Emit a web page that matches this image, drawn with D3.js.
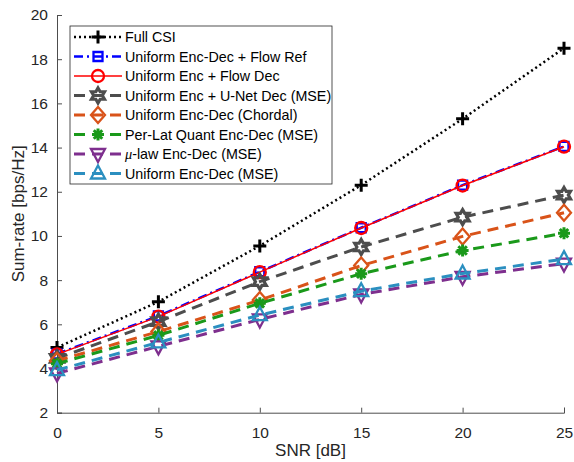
<!DOCTYPE html>
<meta charset="utf-8">
<script src="https://d3js.org/d3.v7.min.js"></script>
<style>
  body { margin: 0; background: #fff; }
  text { font-family: "Liberation Sans", Arial, sans-serif; }
</style>
<div id="chart"></div>
<script>
// data
const snr = [0, 5, 10, 15, 20, 25];
const fullCsi      = [4.95, 7.02, 9.55, 12.3, 15.3, 18.5];
const flowRef      = [4.66, 6.38, 8.38, 10.37, 12.3, 14.05];
const flowDec      = [4.64, 6.35, 8.36, 10.36, 12.28, 14.04];
const unetMse      = [4.46, 6.12, 7.93, 9.5, 10.85, 11.85];
const chordal      = [4.35, 5.67, 7.1, 8.66, 9.98, 11.05];
const perLat       = [4.22, 5.5, 6.95, 8.29, 9.34, 10.12];
const muLaw        = [3.78, 5.0, 6.22, 7.35, 8.15, 8.75];
const uniformMse   = [3.93, 5.18, 6.42, 7.5, 8.3, 8.95];
const xTicks = [0, 5, 10, 15, 20, 25];
const yTicks = [2, 4, 6, 8, 10, 12, 14, 16, 18, 20];

const series = [
  {name: "Full CSI", vals: fullCsi, color: "#000000", dash: "2,3", w: 2.5, mk: "plus"},
  {name: "Uniform Enc-Dec + Flow Ref", vals: flowRef, color: "#0000ff", dash: "9,4,2,4", w: 2.5, mk: "square"},
  {name: "Uniform Enc + Flow Dec", vals: flowDec, color: "#ff0000", dash: null, w: 1.5, mk: "circle"},
  {name: "Uniform Enc + U-Net Dec (MSE)", vals: unetMse, color: "#4d4d4d", dash: "11,7", w: 3, mk: "hexagram"},
  {name: "Uniform Enc-Dec (Chordal)", vals: chordal, color: "#d95319", dash: "11,7", w: 3, mk: "diamond"},
  {name: "Per-Lat Quant Enc-Dec (MSE)", vals: perLat, color: "#1a991a", dash: "11,7", w: 3, mk: "asterisk"},
  {name: "μ-law Enc-Dec (MSE)", vals: muLaw, color: "#7e2f8e", dash: "11,7", w: 3, mk: "tridown"},
  {name: "Uniform Enc-Dec (MSE)", vals: uniformMse, color: "#2b8fc0", dash: "11,7", w: 3, mk: "triup"}
];

const W = 574, H = 462;
const margin = {top: 15, right: 10, bottom: 49, left: 57};
const iw = 564 - margin.left, ih = 412.7 - margin.top;

const svg = d3.select("#chart").append("svg")
    .attr("width", W).attr("height", H);
const g = svg.append("g")
    .attr("transform", "translate(" + margin.left + "," + margin.top + ")");

const x = d3.scaleLinear().domain([0, 25]).range([0, iw]);
const y = d3.scaleLinear().domain([2, 20]).range([ih, 0]);

// axes, MATLAB style ticks pointing inward
const xAxis = g.append("g")
    .attr("transform", "translate(0," + ih + ")")
    .call(d3.axisBottom(x).tickValues(xTicks).tickSize(-5).tickPadding(14));
const yAxis = g.append("g")
    .call(d3.axisLeft(y).tickValues(yTicks).tickSize(-5).tickPadding(9));
[xAxis, yAxis].forEach(a => {
  a.selectAll("path, line").attr("stroke", "#4d4d4d").attr("stroke-width", 1);
  a.selectAll("text").attr("fill", "#262626").style("font-size", "15.5px");
});

svg.append("text")
    .attr("x", margin.left + iw / 2).attr("y", 456)
    .attr("text-anchor", "middle").attr("fill", "#262626")
    .style("font-size", "17px").text("SNR [dB]");
svg.append("text")
    .attr("transform", "translate(24," + (margin.top + ih / 2) + ") rotate(-90)")
    .attr("text-anchor", "middle").attr("fill", "#262626")
    .style("font-size", "17px").text("Sum-rate [bps/Hz]");

// marker shapes
function markerPath(type) {
  const p = d3.path();
  if (type === "plus") {
    p.moveTo(-6.5, 0); p.lineTo(6.5, 0); p.moveTo(0, -6.5); p.lineTo(0, 6.5);
  } else if (type === "asterisk") {
    for (let k = 0; k < 4; k++) {
      const a = k * Math.PI / 4, r = 6;
      p.moveTo(-r * Math.cos(a), -r * Math.sin(a)); p.lineTo(r * Math.cos(a), r * Math.sin(a));
    }
  } else if (type === "square") {
    p.rect(-4.5, -4.5, 9, 9);
  } else if (type === "circle") {
    p.arc(0, 0, 6, 0, 2 * Math.PI);
  } else if (type === "diamond") {
    p.moveTo(0, -8); p.lineTo(7, 0); p.lineTo(0, 8); p.lineTo(-7, 0); p.closePath();
  } else if (type === "hexagram") {
    const R = 7.5, r = R / Math.sqrt(3);
    for (let k = 0; k < 12; k++) {
      const a = -Math.PI / 2 + k * Math.PI / 6, rr = k % 2 === 0 ? R : r;
      if (k === 0) p.moveTo(rr * Math.cos(a), rr * Math.sin(a));
      else p.lineTo(rr * Math.cos(a), rr * Math.sin(a));
    }
    p.closePath();
  } else if (type === "triup") {
    p.moveTo(0, -8); p.lineTo(7, 5); p.lineTo(-7, 5); p.closePath();
  } else if (type === "tridown") {
    p.moveTo(0, 8); p.lineTo(7, -5); p.lineTo(-7, -5); p.closePath();
  }
  return p.toString();
}

function markerWidth(mk) {
  if (mk === "plus" || mk === "asterisk") return 3;
  if (mk === "hexagram") return 3.2;
  return 2.3;
}

const line = d3.line().x((d, i) => x(snr[i])).y(d => y(d));

series.forEach(s => {
  const sg = g.append("g");
  sg.append("path")
      .datum(s.vals)
      .attr("d", line)
      .attr("fill", "none")
      .attr("stroke", s.color)
      .attr("stroke-width", s.w)
      .attr("stroke-dasharray", s.dash);
  sg.selectAll("path.mk")
      .data(s.vals)
      .enter().append("path")
      .attr("class", "mk")
      .attr("transform", (d, i) => "translate(" + x(snr[i]) + "," + y(d) + ")")
      .attr("d", markerPath(s.mk))
      .attr("fill", "none")
      .attr("stroke", s.color)
      .attr("stroke-width", markerWidth(s.mk));
});

// legend
const lg = svg.append("g").attr("transform", "translate(70,26)");
lg.append("rect")
    .attr("width", 262).attr("height", 158)
    .attr("fill", "#fff").attr("stroke", "#262626").attr("stroke-width", 0.8);
series.forEach((s, i) => {
  const row = lg.append("g").attr("transform", "translate(0," + (11 + i * 19.5) + ")");
  row.append("line")
      .attr("x1", 4).attr("x2", 52).attr("y1", 0).attr("y2", 0)
      .attr("stroke", s.color).attr("stroke-width", s.w)
      .attr("stroke-dasharray", s.dash);
  row.append("path")
      .attr("transform", "translate(28,0)")
      .attr("d", markerPath(s.mk))
      .attr("fill", "none").attr("stroke", s.color)
      .attr("stroke-width", markerWidth(s.mk));
  const t = row.append("text")
      .attr("x", 55).attr("y", 5)
      .attr("fill", "#000").style("font-size", "14.3px");
  if (s.name.startsWith("μ")) {
    t.append("tspan").style("font-style", "italic").attr("font-family", "Liberation Serif, serif").text("μ");
    t.append("tspan").text(s.name.slice(1));
  } else {
    t.text(s.name);
  }
});
</script>
